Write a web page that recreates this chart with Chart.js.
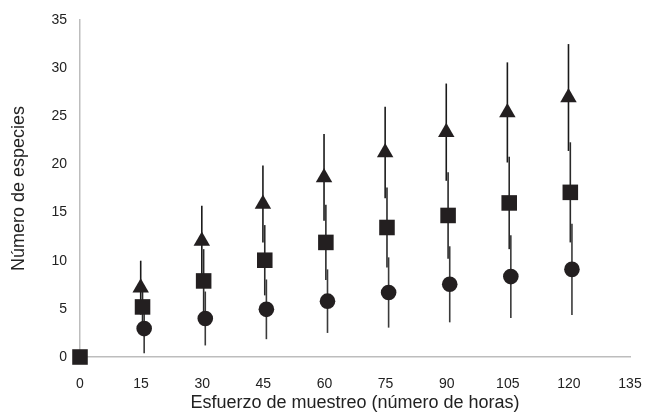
<!DOCTYPE html>
<html>
<head>
<meta charset="utf-8">
<script src="https://cdn.jsdelivr.net/npm/chart.js@4"></script>
<style>
  html, body { margin: 0; padding: 0; background: #fff; }
  #wrap { width: 645px; height: 414px; position: relative; }
</style>
</head>
<body>
<div id="wrap"><canvas id="c" width="645" height="414"></canvas></div>
<script>
// Sampling effort (hours)
const hours = [0, 15, 30, 45, 60, 75, 90, 105, 120];
const xTicks = [0, 15, 30, 45, 60, 75, 90, 105, 120, 135];
const yTicks = [0, 5, 10, 15, 20, 25, 30, 35];

// Series means (species number) — triangles, squares, circles
const triangleMean = [null, 7.2, 12.05, 15.9, 18.65, 21.25, 23.35, 25.4, 26.95];
const squareMean   = [0,    5.2, 7.9,  10.05, 11.9, 13.45, 14.7, 16.0, 17.1];
const circleMean   = [null, 2.95, 4.0, 4.95, 5.8,  6.7,  7.55, 8.35, 9.1];

// Error (± SD)
const triangleErr = [null, 2.8, 3.65, 4.0, 4.5, 4.75, 5.05, 5.2, 5.55];
const squareErr   = [0,    2.3, 3.3, 3.65, 3.9, 4.15, 4.5, 4.8, 5.2];
const circleErr   = [null, 2.55, 2.8, 3.1, 3.3, 3.65, 3.95, 4.3, 4.75];

// small horizontal dodge between series (hours)
const dodge = { triangle: -0.1, square: 0.35, circle: 0.75 };

function build(means, errs, dx) {
  const pts = [];
  hours.forEach((h, i) => {
    if (means[i] === null) return;
    pts.push({ x: h + (h === 0 ? 0 : dx), y: means[i], err: errs[i] });
  });
  return pts;
}

const markColor = '#231f20';
const axisGray = '#bdbdbd';

const errorBars = {
  id: 'errorBars',
  beforeDatasetsDraw(chart) {
    const ctx = chart.ctx;
    const xs = chart.scales.x, ys = chart.scales.y;
    ctx.save();
    chart.data.datasets.forEach((ds) => {
      ctx.strokeStyle = ds.barColor;
      ctx.lineWidth = 1.6;
      ds.data.forEach((p) => {
        if (!p.err) return;
        const px = xs.getPixelForValue(p.x);
        ctx.beginPath();
        ctx.moveTo(px, ys.getPixelForValue(p.y + p.err));
        ctx.lineTo(px, ys.getPixelForValue(Math.max(0, p.y - p.err)));
        ctx.stroke();
      });
    });
    ctx.restore();
  }
};

const font = "'Liberation Sans', Arial, Helvetica, sans-serif";

new Chart(document.getElementById('c'), {
  type: 'scatter',
  data: {
    datasets: [
      { label: 'Triángulos', data: build(triangleMean, triangleErr, dodge.triangle), clip: false,
        pointStyle: 'triangle', pointRadius: 9.5, backgroundColor: markColor, borderColor: markColor, borderWidth: 0,
        barColor: '#1a1a1a' },
      { label: 'Cuadrados', data: build(squareMean, squareErr, dodge.square), clip: false,
        pointStyle: 'rect', pointRadius: 11, backgroundColor: markColor, borderColor: markColor, borderWidth: 0,
        barColor: '#2a2a2a' },
      { label: 'Círculos', data: build(circleMean, circleErr, dodge.circle), clip: false,
        pointStyle: 'circle', pointRadius: 7.8, backgroundColor: markColor, borderColor: markColor, borderWidth: 0,
        barColor: '#3a3a3a' }
    ]
  },
  options: {
    responsive: false,
    animation: false,
    layout: { padding: { top: 20, right: 15, left: 0, bottom: 0 } },
    plugins: { legend: { display: false }, tooltip: { enabled: false } },
    scales: {
      x: {
        type: 'linear', min: 0, max: 135,
        afterBuildTicks(s) { s.ticks = xTicks.map(v => ({ value: v })); },
        afterFit(s) { s.height = 57; s.paddingRight = 0; s.paddingLeft = 0; },
        grid: { display: false, drawOnChartArea: false, drawTicks: true, tickLength: 6, tickColor: axisGray },
        border: { display: true, color: axisGray, width: 1.5 },
        ticks: { color: '#222', font: { family: font, size: 14 }, padding: 13, maxRotation: 0 },
        title: { display: true, text: 'Esfuerzo de muestreo (número de horas)', color: '#222',
                 font: { family: font, size: 18 }, padding: { top: 0, bottom: 0 } }
      },
      y: {
        type: 'linear', min: 0, max: 35,
        afterBuildTicks(s) { s.ticks = yTicks.map(v => ({ value: v })); },
        afterFit(s) { s.width = 80; s.paddingTop = 0; s.paddingBottom = 0; },
        grid: { display: false, drawOnChartArea: false, drawTicks: true, tickLength: 6, tickColor: axisGray },
        border: { display: true, color: axisGray, width: 1.5 },
        ticks: { color: '#222', font: { family: font, size: 14 }, padding: 7 },
        title: { display: true, text: 'Número de especies', color: '#222',
                 font: { family: font, size: 18 }, padding: { top: 8, bottom: 0 } }
      }
    }
  },
  plugins: [errorBars]
});
</script>
</body>
</html>
